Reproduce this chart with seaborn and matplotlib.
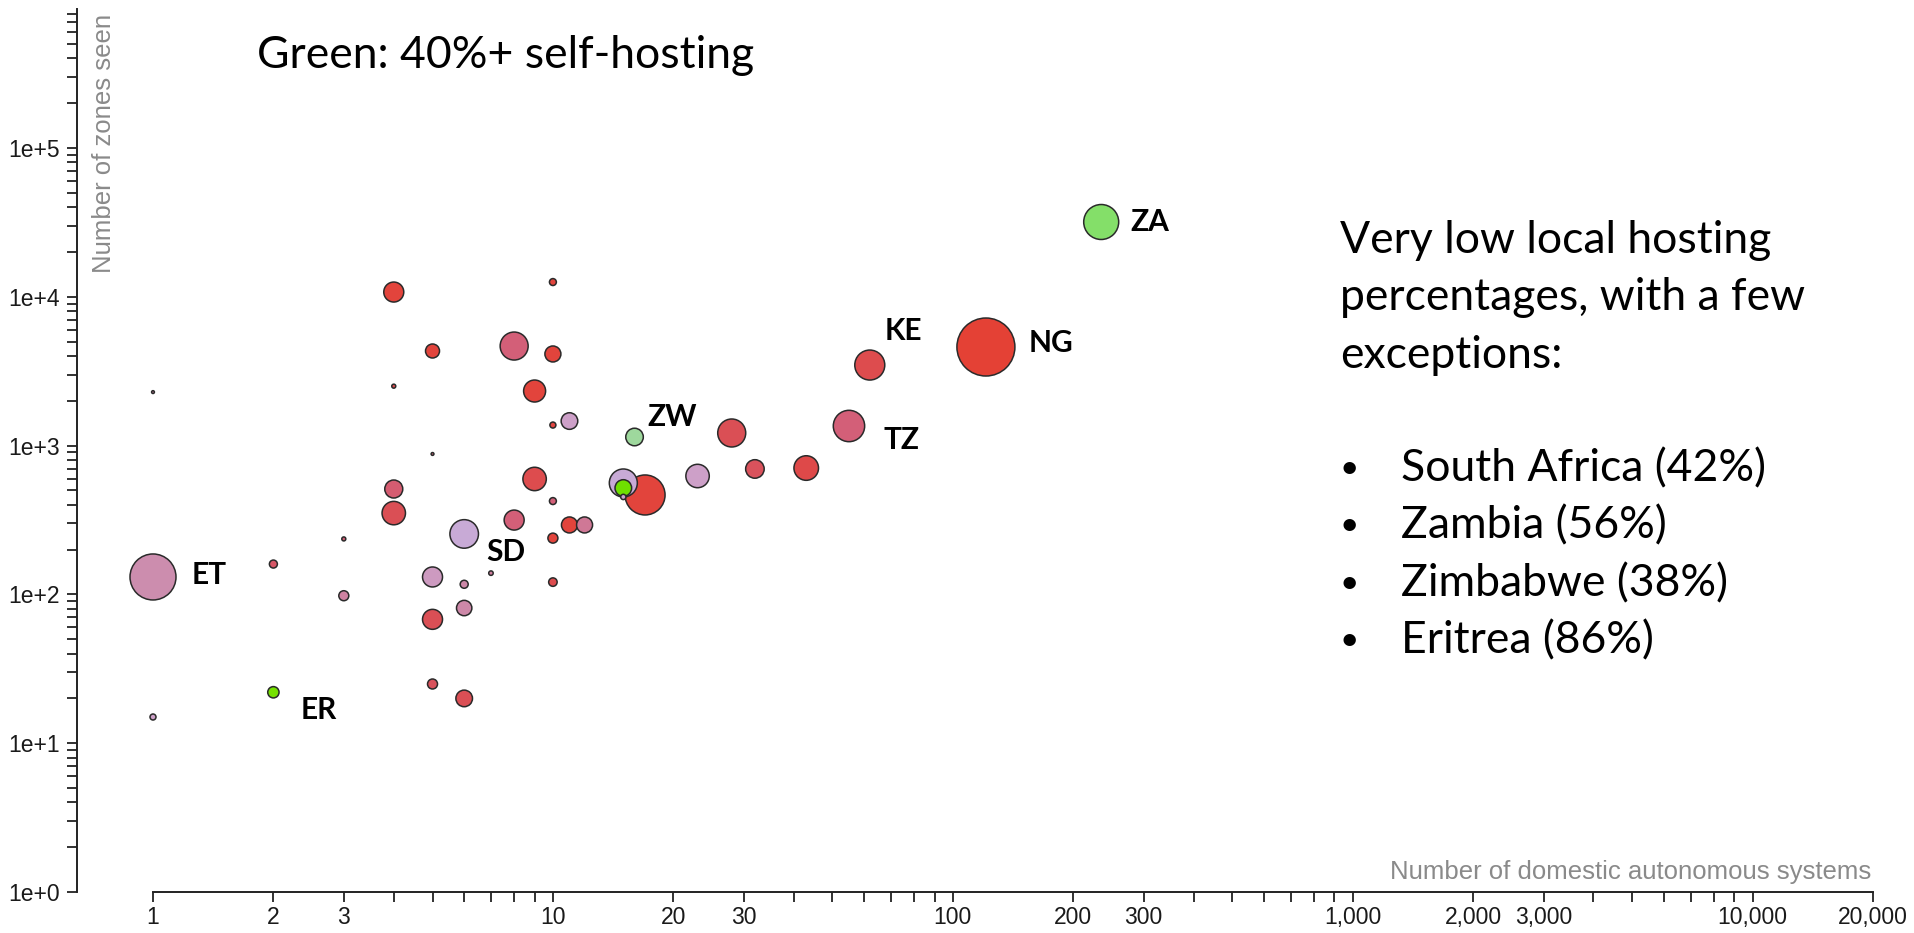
import numpy as np
import pandas as pd
import matplotlib
matplotlib.use("Agg")
import matplotlib.pyplot as plt
import seaborn as sns
from matplotlib.colors import LinearSegmentedColormap

# ------------------------------------------------------------------
# data (one row per country)
# ------------------------------------------------------------------
as_count = [1, 1, 1, 2, 2, 3, 3, 4, 4, 4, 4, 5, 5, 5, 5, 5, 6, 6, 6, 6, 7, 8, 8, 9, 9,
            10, 10, 10, 10, 10, 10, 11, 11, 12, 17, 15, 15, 15, 16, 23, 28, 32, 43, 55,
            62, 121, 235]
zones = [2290, 15, 131, 160, 22, 236, 98, 10770, 2510, 511, 352, 4325, 879, 131, 68, 25,
         255, 117, 81, 20, 139, 4670, 316, 2328, 597, 12570, 4130, 1375, 424, 239, 121,
         1463, 293, 293, 466, 561, 519, 452, 1143, 625, 1216, 697, 707, 1355, 3480, 4600,
         31840]
# bubble area (arbitrary units, estimated from circle sizes)
bubble = [2, 9, 529, 16, 32, 4, 25, 100, 4, 81, 137, 49, 2, 100, 100, 25, 204, 16, 59, 69,
          5, 196, 100, 121, 137, 12, 64, 9, 12, 25, 18, 69, 64, 64, 400, 196, 69, 7, 77,
          137, 196, 86, 151, 246, 225, 841, 306]
# share of zones hosted locally (%), estimated from the fill colour
local_pct = [15, 22, 18, 8, 86, 10, 16, 2, 5, 9, 6, 2, 10, 21, 6, 7, 27, 17, 17, 6, 15, 10,
             10, 2, 5, 2, 2, 3, 10, 2, 5, 22, 2, 14, 2, 27, 56, 25, 38, 22, 6, 7, 4, 10, 5,
             1, 42]
code = [""] * len(as_count)
code[2], code[4], code[16], code[38] = "ET", "ER", "SD", "ZW"
code[43], code[44], code[45], code[46] = "TZ", "KE", "NG", "ZA"

df = pd.DataFrame({"as_count": as_count, "zones": zones, "bubble": bubble,
                   "local_pct": local_pct, "code": code})

x_ticks = [m * 10 ** k for k in range(5) for m in range(1, 10) if m * 10 ** k <= 20000]
y_ticks = [m * 10 ** k for k in range(6) for m in range(1, 10) if m * 10 ** k <= 8.6e5]

# label offsets in pixels (right, down) from the bubble centre
label_off = {"ET": (39, -2), "ER": (27, 18), "SD": (22, 18), "ZW": (13, -20),
             "TZ": (35, 14), "KE": (15, -34), "NG": (43, -4), "ZA": (29, 0)}

# ------------------------------------------------------------------
sns.set_theme(style="white")
plt.rcParams["font.family"] = ["Liberation Sans", "DejaVu Sans"]

cmap = LinearSegmentedColormap.from_list("hosting", [
    (0.00, "#e63f30"), (0.06, "#da4f56"), (0.10, "#d3607a"), (0.14, "#cf7a98"),
    (0.18, "#cc8dae"), (0.22, "#cda0c8"), (0.27, "#c8aad6"), (0.38, "#9ed89e"),
    (0.42, "#84df68"), (0.56, "#6fe000"), (1.00, "#77e000")])

W, H = 1915, 933
fig = plt.figure(figsize=(W / 100, H / 100), dpi=100)
ax = fig.add_axes([153 / W, 1 - 892 / H, (1873 - 153) / W, (892 - 9) / H])

px = 0.72  # points per pixel at 100 dpi
sns.scatterplot(data=df, x="as_count", y="zones", size="bubble",
                sizes=(0, (2 * px) ** 2 * max(bubble)), size_norm=(0, max(bubble)),
                hue="local_pct", palette=cmap, hue_norm=(0, 100),
                edgecolor="#2a2a2a", linewidth=1.1, alpha=1, legend=False,
                clip_on=False, ax=ax, zorder=3)

ax.set_xscale("log")
ax.set_yscale("log")
ax.set_xlim(1, 20000)
ax.set_ylim(1, 8.6e5)

ax.set_xticks(x_ticks)
ax.set_xticklabels([f"{t:,}" if str(t)[0] in "123" and str(t)[1:].strip("0") == "" else ""
                    for t in x_ticks])
ax.set_yticks(y_ticks)
ax.set_yticklabels([f"1e+{int(np.log10(t))}" if str(t)[0] == "1" else "" for t in y_ticks])
ax.minorticks_off()
ax.set_xlabel("")
ax.set_ylabel("")

for s in ["top", "right"]:
    ax.spines[s].set_visible(False)
for s in ["left", "bottom"]:
    ax.spines[s].set_color("#222222")
    ax.spines[s].set_linewidth(1.4)
ax.spines["left"].set_position(("outward", 76 * px))

ax.tick_params(axis="both", which="major", bottom=True, left=True, direction="out",
               length=10 * px, width=1.3, color="#222222", labelsize=16.5,
               labelcolor="#1a1a1a")
ax.tick_params(axis="x", pad=3)
ax.tick_params(axis="y", pad=5)

# axis titles (grey, inside the plot like the original)
fig.text(104 / W, 1 - 14 / H, "Number of zones seen", rotation=90, ha="center",
         va="top", fontsize=18.5, color="#8a8a8a")
fig.text(1871 / W, 1 - 872 / H, "Number of domestic autonomous systems", ha="right",
         va="center", fontsize=18.5, color="#8a8a8a")

# country codes
for _, r in df[df["code"] != ""].iterrows():
    dx, dy = label_off[r["code"]]
    ax.annotate(r["code"], xy=(r["as_count"], r["zones"]), xytext=(dx * px, -dy * px),
                textcoords="offset points", ha="left", va="center", fontsize=21.5,
                fontweight="bold", family=["Lato", "DejaVu Sans"], color="black",
                annotation_clip=False)

# slide text
slide = dict(family=["Lato", "DejaVu Sans"], fontsize=32, color="black", va="center")
fig.text(257 / W, 1 - 56 / H, "Green: 40%+ self-hosting", ha="left", **slide)
for i, line in enumerate(["Very low local hosting", "percentages, with a few", "exceptions:"]):
    fig.text(1340 / W, 1 - (241 + 57 * i) / H, line, ha="left", **slide)
for i, line in enumerate(["South Africa (42%)", "Zambia (56%)", "Zimbabwe (38%)",
                          "Eritrea (86%)"]):
    y = 1 - (469 + 57.3 * i) / H
    fig.text(1349 / W, y, "\u2022", ha="center", family=["Lato", "DejaVu Sans"],
             fontsize=24, color="black", va="center")
    fig.text(1401 / W, y, line, ha="left", **slide)

fig.savefig("out.png", dpi=100)
